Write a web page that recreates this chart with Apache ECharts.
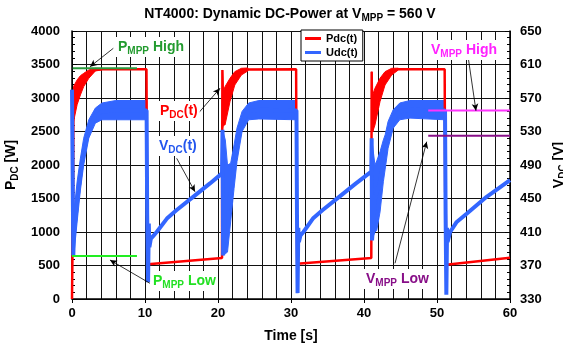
<!DOCTYPE html>
<html>
<head>
<meta charset="utf-8">
<script src="https://cdn.jsdelivr.net/npm/echarts@6/dist/echarts.min.js"></script>
<style>
  html, body { margin: 0; padding: 0; background: #fff; }
  #chart { width: 563px; height: 351px; }
</style>
</head>
<body>
<div id="chart"></div>
<script>
  // NT4000 dynamic DC power test
  // time [s] / power [W]
  var pdcLine = [
    [0, 0], [0.12, 0], [0.16, 1650], [0.2, 2900], [0.7, 3085], [1.15, 3190], [1.6, 3270], [2.3, 3356], [3.2, 3423], [4.1, 3430], [10.2, 3430],
    [10.28, 1700], [10.34, 1400], [10.4, 520], [20.55, 612],
    [20.6, 3418], [20.68, 2600], [20.96, 2880], [21.64, 3120], [22.3, 3294], [23.2, 3393], [24.1, 3425], [30.7, 3430],
    [30.76, 1600], [30.84, 525], [41.0, 612],
    [41.05, 3393], [41.15, 2500], [41.5, 2870], [42.19, 3120], [42.88, 3294], [43.79, 3393], [44.7, 3430], [51.05, 3430],
    [51.12, 1600], [51.2, 1400], [51.25, 510], [60, 615]
  ];
  // ripple envelope of Pdc during the ramps: [t, low, high]
  var pdcBand1 = [[0.2, 2640, 3170], [0.7, 2900, 3270], [1.15, 3045, 3333], [1.6, 3170, 3368], [2.3, 3294, 3418], [3.2, 3403, 3443], [4.1, 3420, 3440]];
  var pdcBand2 = [[20.62, 2550, 3418], [20.75, 2597, 3100], [20.96, 2597, 3169], [21.64, 2945, 3294], [22.3, 3194, 3393], [23.2, 3343, 3443], [24.1, 3405, 3448]];
  var pdcBand3 = [[41.07, 2497, 3393], [41.2, 2500, 3050], [41.5, 2597, 3144], [42.19, 2945, 3294], [42.88, 3194, 3393], [43.79, 3343, 3443], [44.7, 3418, 3445]];

  // time [s] / voltage [V]
  var udcLine = [
    [0, 580], [0.12, 578], [0.18, 382], [0.25, 406], [0.7, 446], [1.15, 479], [1.6, 506], [2.3, 533], [3.2, 549], [4.1, 554], [6, 555], [10.22, 555],
    [10.3, 430], [10.42, 350], [10.52, 420], [10.6, 392], [10.8, 402], [11.2, 406], [11.6, 410], [13, 426], [14.3, 436], [16.6, 452], [18.9, 468], [20.55, 480],
    [20.62, 532], [20.7, 382], [21.0, 450], [21.3, 436], [21.73, 456], [22.2, 488], [22.6, 514], [23.3, 542], [24.2, 554], [25.6, 556], [30.75, 555],
    [30.82, 430], [30.9, 337], [31.0, 415], [31.08, 398], [31.3, 406], [31.7, 410], [33, 426], [34.3, 436], [36.6, 452], [38.9, 468], [41.0, 482],
    [41.05, 522], [41.1, 400], [41.5, 450], [41.75, 452], [42.2, 470], [42.65, 495], [43.3, 526], [44.0, 545], [44.9, 554], [46.3, 556], [51.1, 555],
    [51.18, 430], [51.28, 335], [51.38, 415], [51.45, 398], [51.8, 410], [52.7, 422], [54.1, 432], [56.8, 452], [60, 472]
  ];
  var udcBand1 = [[0.16, 382, 440], [0.25, 382, 432], [0.7, 422, 470], [1.15, 460, 498], [1.6, 490, 522], [2.3, 522, 544], [3.2, 540, 558], [4.1, 544, 564], [6, 544, 567], [10.22, 544, 567]];
  var udcBand2 = [[20.62, 382, 532], [21.0, 384, 520], [21.3, 386, 490], [21.73, 422, 492], [22.2, 462, 514], [22.6, 494, 534], [23.3, 530, 554], [24.2, 544, 564], [25.6, 545, 567], [30.75, 544, 567]];
  var udcBand3 = [[41.05, 400, 522], [41.5, 410, 490], [41.75, 412, 495], [42.2, 434, 506], [42.65, 470, 520], [42.9, 485, 526], [43.3, 510, 542], [44.0, 534, 556], [44.9, 544, 564], [46.3, 546, 567], [51.1, 544, 567]];

  // MPP reference levels
  var pmppHigh = [[0.1, 3445], [8.9, 3445]];
  var pmppLow = [[0, 640], [8.9, 640]];
  var vmppHigh = [[48.8, 555], [60, 555]];
  var vmppLow = [[48.8, 525], [60, 525]];

  var FONT = 'Liberation Sans, Arial, sans-serif';
  var RED = '#ff0000';
  var BLUE = '#3366ff';

  // arrows of the annotations, in time / power units: [t0, p0, t1, p1]
  var arrows = [
    [5.66, 3742, 2.47, 3467],
    [17.3, 2772, 20.27, 3145],
    [14.34, 2100, 16.85, 1601],
    [10.68, 234, 5.2, 582],
    [54.29, 3593, 55.34, 2810],
    [44.25, 533, 48.59, 2348]
  ];

  function band(rows, yIdx, color) {
    return {
      type: 'custom',
      yAxisIndex: yIdx,
      silent: true,
      data: rows,
      renderItem: function (params, api) {
        if (params.dataIndex !== 0) return null;
        var pts = [];
        for (var i = 0; i < rows.length; i++) pts.push(api.coord([rows[i][0], rows[i][2]]));
        for (var j = rows.length - 1; j >= 0; j--) pts.push(api.coord([rows[j][0], rows[j][1]]));
        return {
          type: 'polygon',
          shape: { points: pts },
          style: { fill: color, stroke: color, lineWidth: 1 }
        };
      }
    };
  }

  function refLine(data, yIdx, color) {
    return {
      type: 'line', yAxisIndex: yIdx, data: data, symbol: 'none', silent: true,
      lineStyle: { color: color, width: 2 }
    };
  }

  function richStyle(size, color) {
    return {
      a: { fontFamily: FONT, fontWeight: 'bold', fontSize: size, lineHeight: size + 4, color: color },
      s: { fontFamily: FONT, fontWeight: 'bold', fontSize: Math.round(size * 0.7), lineHeight: 10, verticalAlign: 'bottom', color: color }
    };
  }

  function note(x, y, text, color) {
    return {
      type: 'text', x: x, y: y, z: 100,
      style: {
        text: text, rich: richStyle(14, color), fill: color,
        backgroundColor: '#fff', padding: [1, 2], align: 'left', verticalAlign: 'middle'
      }
    };
  }

  var axisLabel = {
    fontFamily: FONT, fontWeight: 'bold', fontSize: 13, color: '#000',
    formatter: function (v) { return String(v); }
  };

  var chart = echarts.init(document.getElementById('chart'));
  chart.setOption({
    animation: false,
    backgroundColor: '#fff',
    grid: { left: 72, right: 53, top: 31, bottom: 52, outerBoundsMode: 'none', containLabel: false },
    legend: {
      data: [{ name: 'Pdc(t)', icon: 'rect' }, { name: 'Udc(t)', icon: 'rect' }],
      orient: 'vertical', left: 301, top: 30,
      itemWidth: 16, itemHeight: 3, itemGap: 1,
      padding: [2, 5, 2, 4],
      borderColor: '#000', borderWidth: 1, backgroundColor: '#fff',
      textStyle: { fontFamily: FONT, fontWeight: 'bold', fontSize: 11, color: '#000', lineHeight: 13 }
    },
    xAxis: {
      type: 'value', min: 0, max: 60, interval: 10,
      name: 'Time [s]', nameLocation: 'middle', nameGap: 30,
      nameTextStyle: { fontFamily: FONT, fontWeight: 'bold', fontSize: 14, color: '#000' },
      axisLine: { lineStyle: { color: '#000', width: 1.5 } },
      axisTick: { inside: false, length: 4, lineStyle: { color: '#000' } },
      axisLabel: Object.assign({ margin: 8 }, axisLabel),
      splitLine: { show: true, lineStyle: { color: '#111', width: 1 } },
      minorTick: { show: false, splitNumber: 5 },
      minorSplitLine: { show: true, lineStyle: { color: '#111', width: 1 } }
    },
    yAxis: [{
      type: 'value', min: 0, max: 4000, interval: 500,
      name: '{a|P}{s|DC}{a| [W]}', nameLocation: 'middle', nameGap: 44, nameRotate: 90,
      nameTextStyle: { rich: richStyle(14, '#000') },
      axisLine: { show: true, lineStyle: { color: '#000', width: 1.5 } },
      axisTick: { inside: true, length: 5, lineStyle: { color: '#000' } },
      minorTick: { show: true, splitNumber: 5, length: 3, lineStyle: { color: '#000' } },
      axisLabel: Object.assign({ margin: 12 }, axisLabel),
      splitLine: { show: true, lineStyle: { color: '#111', width: 1 } }
    }, {
      type: 'value', min: 330, max: 650, interval: 40, position: 'right',
      name: '{a|V}{s|DC}{a| [V]}', nameLocation: 'middle', nameGap: 30, nameRotate: 90,
      nameTextStyle: { rich: richStyle(14, '#000') },
      axisLine: { show: true, lineStyle: { color: '#000', width: 1.5 } },
      axisTick: { inside: true, length: 5, lineStyle: { color: '#000' } },
      minorTick: { show: true, splitNumber: 5, length: 3, lineStyle: { color: '#000' } },
      axisLabel: Object.assign({ margin: 10 }, axisLabel),
      splitLine: { show: false }
    }],
    series: [
      band(pdcBand1, 0, RED),
      band(pdcBand2, 0, RED),
      band(pdcBand3, 0, RED),
      {
        name: 'Pdc(t)', type: 'line', data: pdcLine, symbol: 'none',
        color: RED, lineStyle: { color: RED, width: 2.5 }
      },
      band(udcBand1, 1, BLUE),
      band(udcBand2, 1, BLUE),
      band(udcBand3, 1, BLUE),
      {
        name: 'Udc(t)', type: 'line', yAxisIndex: 1, data: udcLine, symbol: 'none',
        color: BLUE, lineStyle: { color: BLUE, width: 4 }
      },
      refLine(pmppHigh, 0, '#2a9a3e'),
      refLine(pmppLow, 0, '#22ee22'),
      refLine(vmppHigh, 1, '#ff33ff'),
      refLine(vmppLow, 1, '#880f88'),
      {
        type: 'line', data: [], silent: true,
        markLine: {
          silent: true, symbol: ['none', 'arrow'], symbolSize: [5, 7],
          label: { show: false },
          lineStyle: { color: '#000', width: 0.8, type: 'solid' },
          emphasis: { disabled: true },
          data: arrows.map(function (a) {
            return [{ coord: [a[0], a[1]] }, { coord: [a[2], a[3]] }];
          })
        }
      }
    ],
    graphic: [
      {
        type: 'text', x: 290, y: 14, z: 100,
        style: {
          text: '{a|NT4000: Dynamic DC-Power at V}{s|MPP}{a| = 560 V}',
          rich: richStyle(14, '#000'), align: 'center', verticalAlign: 'middle'
        }
      },
      note(116, 47, '{a|P}{s|MPP}{a| High}', '#239b2f'),
      note(429, 50, '{a|V}{s|MPP}{a| High}', '#ff22ff'),
      note(158, 111, '{a|P}{s|DC}{a|(t)}', RED),
      note(157, 146, '{a|V}{s|DC}{a|(t)}', '#2255ee'),
      note(151, 281, '{a|P}{s|MPP}{a| Low}', '#22e022'),
      note(364, 279, '{a|V}{s|MPP}{a| Low}', '#880f88')
    ]
  });
</script>
</body>
</html>
